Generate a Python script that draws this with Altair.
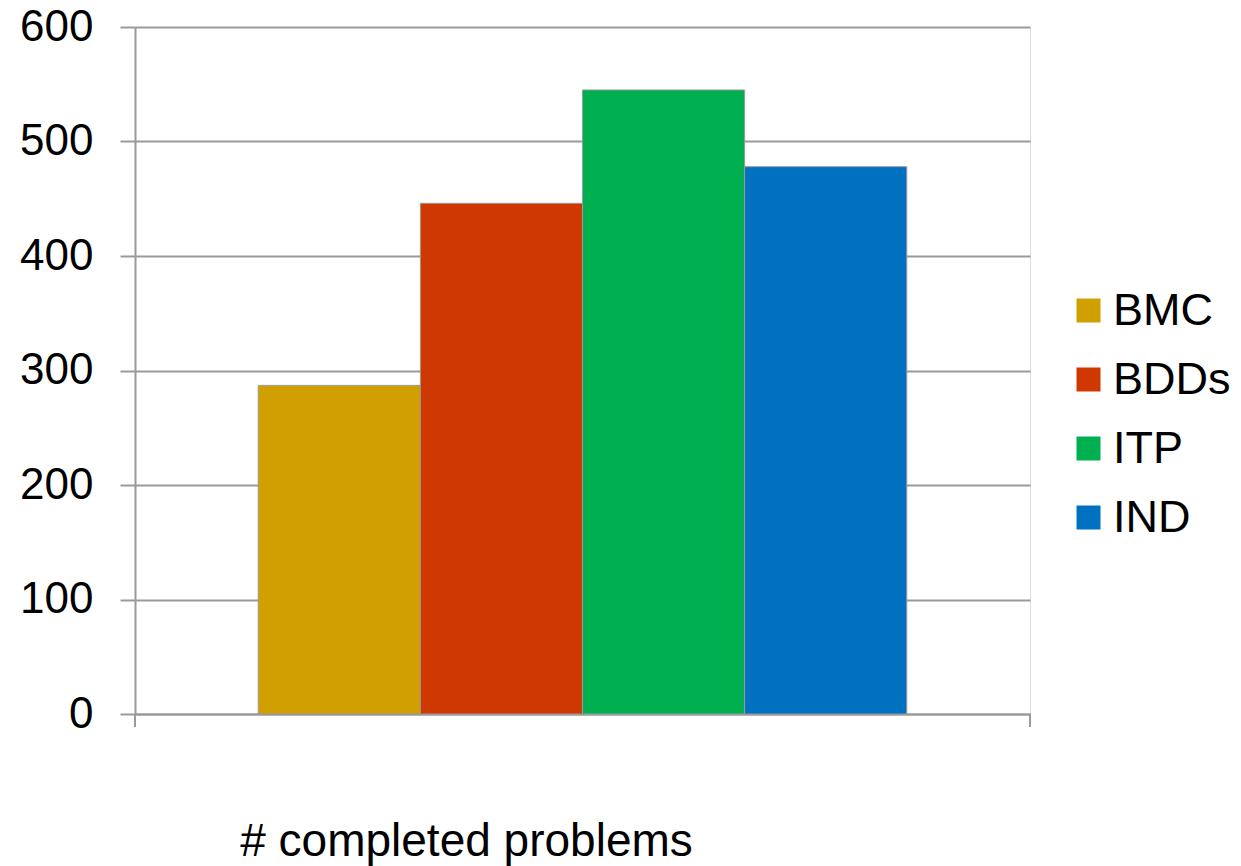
import altair as alt
import pandas as pd

series = ["BMC", "BDDs", "ITP", "IND"]
values = [287, 446, 545, 478]
colors = ["#D09F00", "#CF3800", "#00B050", "#0070C0"]
group = ["# completed problems"] * 4

df = pd.DataFrame({"group": group, "series": series, "value": values})

FONT = "Liberation Sans"
W, H = 895, 687

bars = alt.Chart(df).mark_bar(stroke="#9a9a9a", strokeWidth=1).encode(
    x=alt.X("group:N", scale=alt.Scale(paddingOuter=0.19, paddingInner=0),
            axis=alt.Axis(labels=False, ticks=False, domain=True, domainColor="#9a9a9a",
                          domainWidth=2, title="# completed problems",
                          titleFont=FONT, titleFontSize=46, titleFontWeight="normal",
                          titleColor="black", titleX=331, titleY=141,
                          titleAlign="center", titleBaseline="alphabetic")),
    xOffset=alt.XOffset("series:N", sort=series, scale=alt.Scale(paddingInner=0, paddingOuter=0)),
    y=alt.Y("value:Q", scale=alt.Scale(domain=[0, 600], nice=False),
            axis=alt.Axis(values=[0, 100, 200, 300, 400, 500, 600], title=None,
                          labelFont=FONT, labelFontSize=44, labelColor="black",
                          labelPadding=27, tickSize=15, tickColor="#9a9a9a", tickWidth=2,
                          domainColor="#9a9a9a", domainWidth=2,
                          grid=True, gridColor="#9a9a9a", gridWidth=2)),
    color=alt.Color("series:N", sort=series,
                    scale=alt.Scale(domain=series, range=colors),
                    legend=alt.Legend(title=None, orient="none", legendX=931, legendY=261,
                                      symbolType="square", symbolSize=576,
                                      symbolStrokeWidth=0, labelFont=FONT,
                                      labelFontSize=45, labelColor="black",
                                      labelOffset=2, rowPadding=23, padding=0)),
)

tick_df = pd.DataFrame({"x": [0, W]})
ticks = alt.Chart(tick_df).mark_rule(color="#9a9a9a", strokeWidth=2).encode(
    x=alt.X("x:Q", scale=alt.Scale(domain=[0, W], range=[0, W]), axis=None),
    y=alt.value(H),
    y2=alt.value(H + 13),
)

chart = alt.layer(bars, ticks).resolve_scale(x="independent").properties(
    width=W, height=H,
    autosize=alt.AutoSizeParams(type="none"),
    padding={"left": 135, "top": 27, "right": 211, "bottom": 152},
).configure_view(stroke=None).configure(background="white")

chart.save("out.html", embed_options={"renderer": "svg", "actions": False})
